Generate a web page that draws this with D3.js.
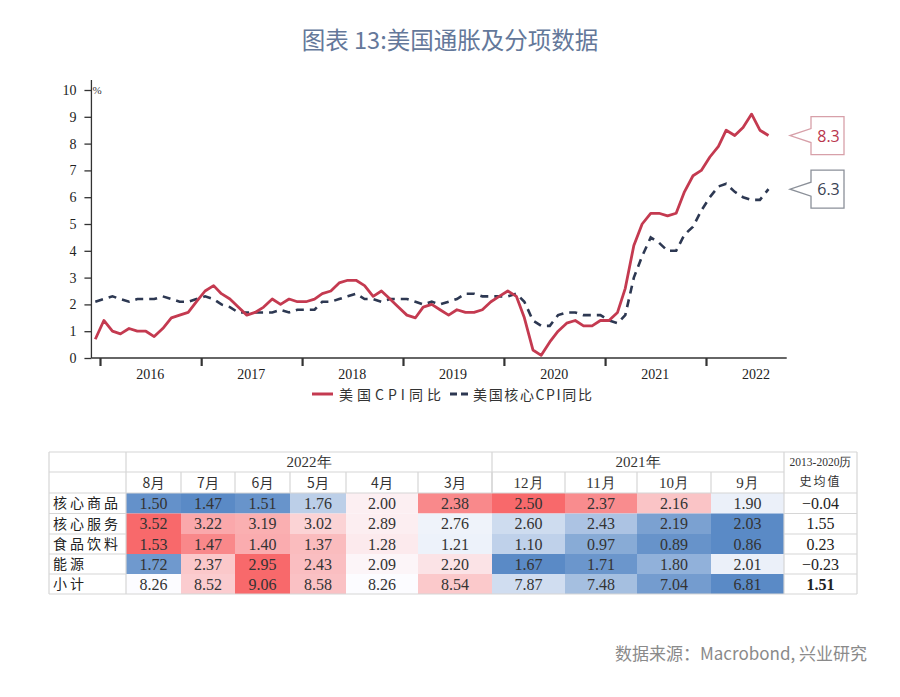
<!DOCTYPE html>
<html><head><meta charset="utf-8">
<script src="https://cdn.jsdelivr.net/npm/d3@7"></script>
<style>body{margin:0;background:#fff}svg{display:block}</style>
</head><body><svg id="c" width="900" height="697"></svg>
<script>
// ---------- DATA ----------
const seriesStart = "2015-12"; // first month in the line series (monthly)
const cpi = [0.7,
 1.4,1.0,0.9,1.1,1.0,1.0,0.8,1.1,1.5,1.6,1.7,2.1,
 2.5,2.7,2.4,2.2,1.9,1.6,1.7,1.9,2.2,2.0,2.2,2.1,
 2.1,2.2,2.4,2.5,2.8,2.9,2.9,2.7,2.3,2.5,2.2,1.9,
 1.6,1.5,1.9,2.0,1.8,1.6,1.8,1.7,1.7,1.8,2.1,2.3,
 2.5,2.3,1.5,0.3,0.1,0.6,1.0,1.3,1.4,1.2,1.2,1.4,
 1.4,1.7,2.6,4.2,5.0,5.4,5.4,5.3,5.4,6.2,6.8,7.0,
 7.5,7.9,8.5,8.3,8.6,9.1,8.5,8.3];
const coreCpi = [2.1,
 2.2,2.3,2.2,2.1,2.2,2.2,2.2,2.3,2.2,2.1,2.1,2.2,
 2.3,2.2,2.0,1.9,1.7,1.7,1.7,1.7,1.7,1.8,1.7,1.8,
 1.8,1.8,2.1,2.1,2.2,2.3,2.4,2.2,2.2,2.1,2.2,2.2,
 2.2,2.1,2.0,2.1,2.0,2.1,2.2,2.4,2.4,2.3,2.3,2.3,
 2.3,2.4,2.1,1.4,1.2,1.2,1.6,1.7,1.7,1.6,1.6,1.6,
 1.4,1.3,1.6,3.0,3.8,4.5,4.3,4.0,4.0,4.6,4.9,5.5,
 6.0,6.4,6.5,6.2,6.0,5.9,5.9,6.3];
const yTickValues = [0,1,2,3,4,5,6,7,8,9,10];
const years = [2016,2017,2018,2019,2020,2021,2022];
const seriesNames = ["美国CPI同比","美国核心CPI同比"];

const tableRowNames = ["核心商品","核心服务","食品饮料","能源","小计"];
const tableMonths = ["8月","7月","6月","5月","4月","3月","12月","11月","10月","9月"];
const tableYears = ["2022年","2021年"];
const histHeader = ["2013-2020历","史均值"];
const coreGoods   = [1.50,1.47,1.51,1.76,2.00,2.38,2.50,2.37,2.16,1.90];
const coreServices= [3.52,3.22,3.19,3.02,2.89,2.76,2.60,2.43,2.19,2.03];
const foodBev     = [1.53,1.47,1.40,1.37,1.28,1.21,1.10,0.97,0.89,0.86];
const energy      = [1.72,2.37,2.95,2.43,2.09,2.20,1.67,1.71,1.80,2.01];
const subtotal    = [8.26,8.52,9.06,8.58,8.26,8.54,7.87,7.48,7.04,6.81];
const histAvg     = [-0.04,1.55,0.23,-0.23,1.51];
const sourceText = "数据来源：Macrobond, 兴业研究";
const titleText = "图表 13:美国通胀及分项数据";

// ---------- LAYOUT ----------
const svg = d3.select("#c");
const serif = "'Liberation Serif','DejaVu Serif',serif";
const cjk = "'Noto Sans CJK SC','Noto Sans',sans-serif";
const red = "#c43a50", navy = "#2d3852";

svg.append("text").attr("x",450).attr("y",49).attr("text-anchor","middle")
  .attr("font-family","'Noto Sans CJK SC','Open Sans',sans-serif").attr("font-size",23.5)
  .attr("fill","#64789a").text(titleText);

// scales
const parseM = d3.timeParse("%Y-%m");
const startDate = parseM(seriesStart);
const dates = cpi.map((d,i)=> new Date(startDate.getFullYear(), startDate.getMonth()+i, 15));
const x = d3.scaleTime().domain([new Date(2016,0,1), new Date(2022,0,1)]).range([100,706]);
const y = d3.scaleLinear().domain([0,10]).range([358,90]);
const axisX0 = x(new Date(2015,11,1)), axisX1 = x(new Date(2022,9,20));

// y axis
const yAxis = d3.axisLeft(y).tickValues(yTickValues).tickSize(7).tickPadding(8).tickFormat(d3.format("d"));
const gy = svg.append("g").attr("transform",`translate(${axisX0},0)`).call(yAxis);
gy.select(".domain").attr("d",`M0,${y(0)}V80`).attr("stroke","#333").attr("stroke-width",1.3);
gy.selectAll(".tick line").attr("stroke","#333").attr("stroke-width",1.3);
gy.selectAll(".tick text").attr("font-family",serif).attr("font-size",14).attr("fill","#222");
svg.append("text").attr("x",axisX0+1).attr("y",y(10)+4).attr("font-family",serif)
  .attr("font-size",11).attr("fill","#333").text("%");

// x axis
const gx = svg.append("g").attr("transform",`translate(0,${y(0)})`)
  .call(d3.axisBottom(x).tickValues(years.map(yr=>new Date(yr,0,1))).tickSize(8).tickFormat(""));
gx.select(".domain").attr("d",`M${axisX0},0H${axisX1}`).attr("stroke","#333").attr("stroke-width",1.3);
gx.selectAll(".tick line").attr("stroke","#333").attr("stroke-width",2.2);
svg.append("g").selectAll("text").data(years).join("text")
  .attr("x",d=>x(new Date(d,6,1))).attr("y",379).attr("text-anchor","middle")
  .attr("font-family",serif).attr("font-size",14).attr("fill","#222").text(d=>d);

// lines
const line = d3.line().x((d,i)=>x(dates[i])).y(d=>y(d));
svg.append("path").datum(coreCpi).attr("d",line).attr("fill","none")
  .attr("stroke",navy).attr("stroke-width",2.6).attr("stroke-dasharray","8,6");
svg.append("path").datum(cpi).attr("d",line).attr("fill","none")
  .attr("stroke",red).attr("stroke-width",2.8).attr("stroke-linejoin","round");

// callouts
function callout(val, stroke, color){
  const ty = y(val), bx=811, bw=33, h=19, n=7, tip=790;
  svg.append("path").attr("d",`M${bx},${ty-h}H${bx+bw}V${ty+h}H${bx}V${ty+n}L${tip},${ty}L${bx},${ty-n}Z`)
    .attr("fill","#fff").attr("stroke",stroke).attr("stroke-width",1.3);
  svg.append("text").attr("x",bx+bw/2+1).attr("y",ty+6).attr("text-anchor","middle")
    .attr("font-family","'Open Sans','Noto Sans',sans-serif").attr("font-size",16)
    .attr("fill",color).text(d3.format(".1f")(val));
}
callout(cpi[cpi.length-1], "#d7a0a9", "#b9364c");
callout(coreCpi[coreCpi.length-1], "#8b9099", "#3a4252");

// legend
const lg = svg.append("g");
lg.append("line").attr("x1",312).attr("x2",333).attr("y1",394).attr("y2",394).attr("stroke",red).attr("stroke-width",3);
lg.append("text").attr("x",339).attr("y",400).attr("font-family",cjk).attr("font-size",14).attr("fill","#333")
  .attr("textLength",102).attr("lengthAdjust","spacing").text(seriesNames[0]);
lg.append("line").attr("x1",450).attr("x2",468).attr("y1",394).attr("y2",394).attr("stroke",navy).attr("stroke-width",3).attr("stroke-dasharray","7,4");
lg.append("text").attr("x",473).attr("y",400).attr("font-family",cjk).attr("font-size",14).attr("fill","#333")
  .attr("textLength",119).attr("lengthAdjust","spacing").text(seriesNames[1]);

// ---------- TABLE ----------
const colEdges = [49,126,181,235,290,346,418,492,565,637,711,784,857];
const rowEdges = [452,472,493,513.5,534,554,574,594];
const rowsData = [coreGoods, coreServices, foodBev, energy, subtotal];
const tg = svg.append("g");
const grid = "#d6d6d6";

rowsData.forEach((vals,r)=>{
  const sorted = vals.slice().sort(d3.ascending);
  const cs = d3.scaleLinear().domain([d3.min(vals), d3.median(sorted), d3.max(vals)])
    .range(["#5a8ac6","#fcfcff","#f8696b"]).interpolate(d3.interpolateRgb);
  const y0 = rowEdges[r+2], y1 = rowEdges[r+3];
  vals.forEach((v,c)=>{
    const x0 = colEdges[c+1], x1 = colEdges[c+2];
    tg.append("rect").attr("x",x0).attr("y",y0).attr("width",x1-x0).attr("height",y1-y0).attr("fill",cs(v));
    tg.append("text").attr("x",(x0+x1)/2).attr("y",(y0+y1)/2+5.5).attr("text-anchor","middle")
      .attr("font-family",serif).attr("font-size",16).attr("fill","#333").text(d3.format(".2f")(v));
  });
  tg.append("text").attr("x",53).attr("y",(y0+y1)/2+5).attr("font-family",cjk).attr("font-size",14)
    .attr("letter-spacing",3).attr("fill","#222").text(tableRowNames[r]);
  tg.append("text").attr("x",(colEdges[11]+colEdges[12])/2).attr("y",(y0+y1)/2+5.5).attr("text-anchor","middle")
    .attr("font-family",serif).attr("font-size",16).attr("font-weight",r===4?"bold":"normal")
    .attr("fill","#222").text(d3.format(".2f")(histAvg[r]));
});

// header texts
tg.append("text").attr("x",(colEdges[1]+colEdges[7])/2).attr("y",467).attr("text-anchor","middle")
  .attr("font-family",serif).attr("font-size",15).attr("fill","#333").text(tableYears[0]);
tg.append("text").attr("x",(colEdges[7]+colEdges[11])/2).attr("y",467).attr("text-anchor","middle")
  .attr("font-family",serif).attr("font-size",15).attr("fill","#333").text(tableYears[1]);
tableMonths.forEach((m,c)=>{
  tg.append("text").attr("x",(colEdges[c+1]+colEdges[c+2])/2).attr("y",488).attr("text-anchor","middle")
    .attr("font-family",c<6?cjk:serif).attr("font-size",c<6?14:15).attr("fill","#333").text(m);
});
tg.append("text").attr("x",(colEdges[11]+colEdges[12])/2).attr("y",466).attr("text-anchor","middle")
  .attr("font-family",serif).attr("font-size",11.5).attr("fill","#333").text(histHeader[0]);
tg.append("text").attr("x",(colEdges[11]+colEdges[12])/2).attr("y",486).attr("text-anchor","middle")
  .attr("font-family",cjk).attr("font-size",12).attr("letter-spacing",2).attr("fill","#333").text(histHeader[1]);

// grid lines
function hl(x0,x1,yy){tg.append("line").attr("x1",x0).attr("x2",x1).attr("y1",yy).attr("y2",yy).attr("stroke",grid).attr("stroke-width",1.2);}
function vl(xx,y0,y1){tg.append("line").attr("x1",xx).attr("x2",xx).attr("y1",y0).attr("y2",y1).attr("stroke",grid).attr("stroke-width",1.2);}
hl(colEdges[0],colEdges[12],rowEdges[0]);
hl(colEdges[0],colEdges[11],rowEdges[1]);
hl(colEdges[0],colEdges[12],rowEdges[2]);
for(let r=3;r<rowEdges.length;r++){ hl(colEdges[0],colEdges[1],rowEdges[r]); hl(colEdges[11],colEdges[12],rowEdges[r]); }
hl(colEdges[1],colEdges[11],rowEdges[7]);
vl(colEdges[0],rowEdges[0],rowEdges[7]);
vl(colEdges[1],rowEdges[0],rowEdges[7]);
vl(colEdges[7],rowEdges[0],rowEdges[2]);
vl(colEdges[11],rowEdges[0],rowEdges[7]);
vl(colEdges[12],rowEdges[0],rowEdges[7]);
for(let c=2;c<11;c++) vl(colEdges[c],rowEdges[1],rowEdges[2]);

// source
svg.append("text").attr("x",867).attr("y",660).attr("text-anchor","end")
  .attr("font-family","'Noto Sans CJK SC','Open Sans',sans-serif").attr("font-size",17)
  .attr("fill","#8a8a8a").text(sourceText);
</script></body></html>
